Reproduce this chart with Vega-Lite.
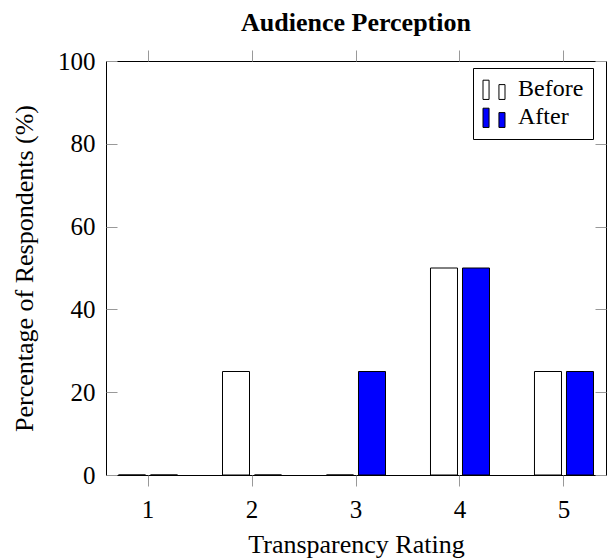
{
  "$schema": "https://vega.github.io/schema/vega-lite/v6.json",
  "width": 500,
  "height": 414,
  "autosize": {"type": "none"},
  "padding": {"left": 106, "top": 61, "right": 5, "bottom": 83},
  "background": "white",
  "config": {
    "view": {"stroke": "black", "strokeWidth": 1},
    "font": "Liberation Serif",
    "axis": {"grid": false, "domain": false, "labelFont": "Liberation Serif", "titleFont": "Liberation Serif", "labelColor": "black", "titleColor": "black", "tickColor": "#999999", "tickWidth": 1}
  },
  "title": {"text": "Audience Perception", "font": "Liberation Serif", "fontSize": 26, "fontWeight": "bold", "color": "black", "anchor": "middle", "baseline": "bottom", "offset": 12, "dy": 25},
  "data": {
    "values": [
      {"rating": 1, "series": "Before", "value": 0},
      {"rating": 1, "series": "After", "value": 0},
      {"rating": 2, "series": "Before", "value": 25},
      {"rating": 2, "series": "After", "value": 0},
      {"rating": 3, "series": "Before", "value": 0},
      {"rating": 3, "series": "After", "value": 25},
      {"rating": 4, "series": "Before", "value": 50},
      {"rating": 4, "series": "After", "value": 50},
      {"rating": 5, "series": "Before", "value": 25},
      {"rating": 5, "series": "After", "value": 25}
    ]
  },
  "layer": [
    {
      "mark": {"type": "bar", "stroke": "black", "strokeWidth": 1},
      "encoding": {
        "x": {
          "field": "rating", "type": "ordinal",
          "scale": {"paddingInner": 0.3846, "paddingOuter": 0.0963},
          "axis": {"orient": "bottom", "labelAngle": 0, "tickSize": 11, "labelFontSize": 25, "labelPadding": 11, "labelBaseline": "top", "title": "Transparency Rating", "titleFontSize": 26, "titleFontWeight": "normal", "titleBaseline": "alphabetic", "titleX": 250, "titleY": 77, "titleAlign": "center"}
        },
        "xOffset": {"field": "series", "type": "nominal", "scale": {"domain": ["Before", "After"], "paddingInner": 0.156, "paddingOuter": 0.078}},
        "y": {
          "field": "value", "type": "quantitative", "stack": null,
          "scale": {"domain": [0, 100], "nice": false},
          "axis": {"orient": "left", "values": [0, 20, 40, 60, 80, 100], "tickSize": -11, "labelFontSize": 25, "labelPadding": 22, "title": "Percentage of Respondents (%)", "titleFontSize": 26, "titleFontWeight": "normal", "titleAngle": -90, "titleBaseline": "alphabetic", "titleX": -74, "titleY": 207, "titleAlign": "center"}
        },
        "fill": {
          "field": "series", "type": "nominal",
          "scale": {"domain": ["Before", "After"], "range": ["white", "#0000ff"]},
          "legend": {"title": null, "orient": "none", "legendX": 367, "legendY": 7, "strokeColor": "black", "fillColor": "white", "padding": 9, "symbolType": "M-1,-0.8H-0.45V0.95H-1Z M0.45,-0.4H1V0.95H0.45Z", "symbolSize": 484, "symbolStrokeColor": "black", "symbolStrokeWidth": 1, "symbolOpacity": 1, "labelFont": "Liberation Serif", "labelFontSize": 24, "labelColor": "black", "labelOffset": 12, "rowPadding": 3}
        }
      }
    },
    {
      "mark": {"type": "bar", "opacity": 0},
      "encoding": {
        "x": {"field": "rating", "type": "ordinal", "scale": {"paddingInner": 0.3846, "paddingOuter": 0.0963}, "axis": {"orient": "top", "labels": false, "tickSize": 11, "title": null}},
        "y": {"field": "value", "type": "quantitative", "stack": null, "scale": {"domain": [0, 100], "nice": false}, "axis": {"orient": "right", "labels": false, "values": [0, 20, 40, 60, 80, 100], "tickSize": -11, "title": null}}
      }
    }
  ],
  "resolve": {"axis": {"x": "independent", "y": "independent"}}
}
